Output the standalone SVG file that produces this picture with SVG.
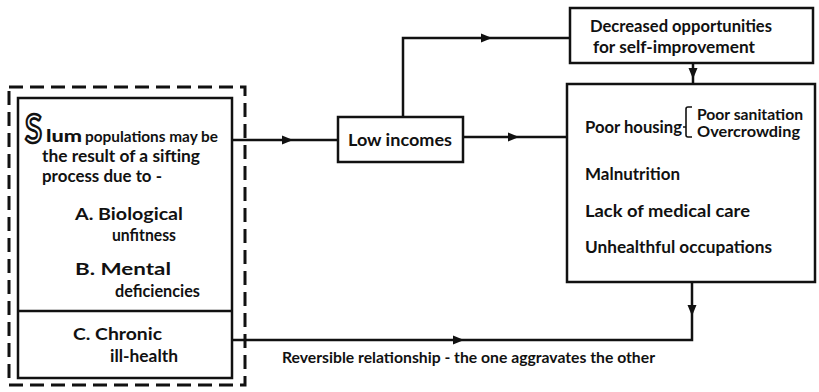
<svg xmlns="http://www.w3.org/2000/svg" width="819" height="392" viewBox="0 0 819 392">
<style>
.box{fill:none;stroke:#111;stroke-width:2.5}
.dash{fill:none;stroke:#111;stroke-width:3;stroke-dasharray:14 7}
.ln{fill:none;stroke:#111;stroke-width:2.5}
text{font-family:"Lato","Liberation Sans",sans-serif;font-weight:bold;fill:#111}
.t{font-size:17px}
.s{font-size:15px}
</style>
<defs>
<path id="ah" d="M0,0 L-11,-4.5 L-11,4.5 Z" fill="#111"/>
</defs>
<rect width="819" height="392" fill="#fff"/>
<g id="connectors">
<path class="ln" d="M232 140 H338"/>
<use href="#ah" transform="translate(293,140)"/>
<path class="ln" d="M463 137 H567"/>
<use href="#ah" transform="translate(519,137)"/>
<path class="ln" d="M403 117 V38 H570"/>
<use href="#ah" transform="translate(492,38)"/>
<path class="ln" d="M693 63 V84"/>
<use href="#ah" transform="translate(693,79) rotate(90)"/>
<path class="ln" d="M692 282 V340 H232"/>
<use href="#ah" transform="translate(692,316) rotate(90)"/>
<use href="#ah" transform="translate(464,340)"/>
</g>
<g id="slum-group">
<rect class="dash" x="9" y="87" width="236" height="298"/>
<rect class="box" x="18" y="98" width="214" height="280"/>
<line class="ln" x1="18" y1="311" x2="232" y2="311"/>
<text x="25" y="143" textLength="17" lengthAdjust="spacingAndGlyphs" style="font-size:40px;fill:#fff;stroke:#111;stroke-width:2.6;font-weight:bold">S</text>
<text x="46" y="142" style="font-size:17px;font-weight:900" textLength="36" lengthAdjust="spacingAndGlyphs">lum</text>
<text class="s" x="85" y="142" textLength="133" lengthAdjust="spacingAndGlyphs">populations may be</text>
<text class="t" x="42" y="162" textLength="158" lengthAdjust="spacingAndGlyphs">the result of a sifting</text>
<text class="t" x="42" y="182" textLength="120" lengthAdjust="spacingAndGlyphs">process due to -</text>
<text class="t" x="75" y="220" textLength="108" lengthAdjust="spacingAndGlyphs">A. Biological</text>
<text class="t" x="112" y="241" textLength="64" lengthAdjust="spacingAndGlyphs">unfitness</text>
<text class="t" x="75" y="275" textLength="96" lengthAdjust="spacingAndGlyphs">B. Mental</text>
<text class="t" x="115" y="297" textLength="85" lengthAdjust="spacingAndGlyphs">deficiencies</text>
</g>
<g id="chronic">
<text class="t" x="73" y="340" textLength="89" lengthAdjust="spacingAndGlyphs">C. Chronic</text>
<text class="t" x="110" y="362" textLength="68" lengthAdjust="spacingAndGlyphs">ill-health</text>
</g>
<g id="low-incomes">
<rect class="box" x="338" y="117" width="125" height="45"/>
<text class="t" x="348" y="146" textLength="104" lengthAdjust="spacingAndGlyphs">Low incomes</text>
</g>
<g id="decreased">
<rect class="box" x="570" y="8" width="243" height="55"/>
<text class="t" x="590" y="32" textLength="182" lengthAdjust="spacingAndGlyphs">Decreased opportunities</text>
<text class="t" x="593" y="53" textLength="162" lengthAdjust="spacingAndGlyphs">for self-improvement</text>
</g>
<g id="conditions">
<rect class="box" x="567" y="84" width="248" height="198"/>
<text class="t" x="585" y="133" textLength="97" lengthAdjust="spacingAndGlyphs">Poor housing</text>
<path class="ln" d="M683 127 H686 M692 107 H688 Q686 107 686 109 V135 Q686 137 688 137 H692" style="stroke-width:1.6"/>
<text class="s" x="697" y="120" textLength="106" lengthAdjust="spacingAndGlyphs">Poor sanitation</text>
<text class="s" x="697" y="137" textLength="103" lengthAdjust="spacingAndGlyphs">Overcrowding</text>
<text class="t" x="585" y="180" textLength="95" lengthAdjust="spacingAndGlyphs">Malnutrition</text>
<text class="t" x="585" y="217" textLength="165" lengthAdjust="spacingAndGlyphs">Lack of medical care</text>
<text class="t" x="585" y="253" textLength="187" lengthAdjust="spacingAndGlyphs">Unhealthful occupations</text>
</g>
<g id="label">
<text class="s" x="282" y="363" textLength="373" lengthAdjust="spacingAndGlyphs">Reversible relationship - the one aggravates the other</text>
</g>
</svg>
